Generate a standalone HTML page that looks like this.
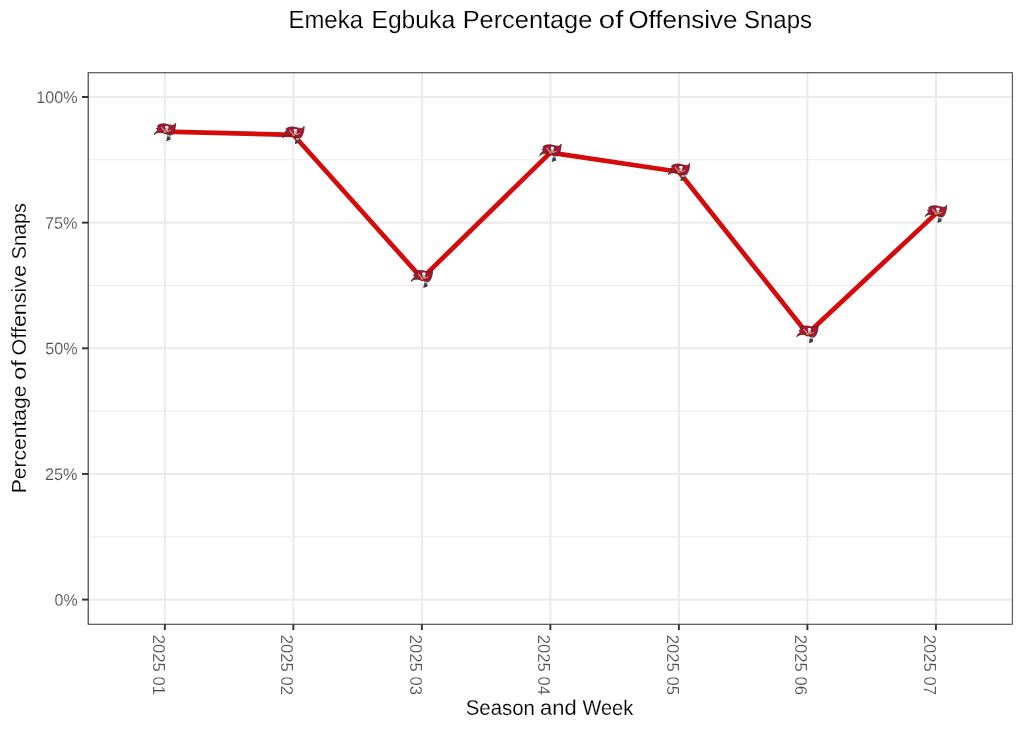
<!DOCTYPE html>
<html><head><meta charset="utf-8"><title>Emeka Egbuka Percentage of Offensive Snaps</title>
<style>
html,body{margin:0;padding:0;background:#fff;}
body{width:1024px;height:731px;overflow:hidden;font-family:"Liberation Sans",sans-serif;}
svg{display:block;will-change:transform;}
text{font-family:"Liberation Sans",sans-serif;stroke:#ffffff;stroke-width:0.16px;}
</style></head><body>
<svg width="1024" height="731" viewBox="0 0 1024 731">
<rect x="0" y="0" width="1024" height="731" fill="#ffffff"/>
<defs>

<g id="flag">
<!-- pole / sword hilt -->
<path d="M498 470 L602 482 L578 548 L591 632 L454 680 L472 565 L486 520 Z" fill="#3d4045"/>
<path d="M500 468 L602 482 L582 545 L486 532 Z" fill="#b3b6ba"/>
<!-- flag body -->
<path d="M194 172 C250 140 330 122 410 130 C490 140 560 176 640 176 C700 174 735 150 748 104 C756 190 734 300 690 400 C676 434 660 456 640 474 C560 482 480 462 400 432 C320 404 240 394 165 414 C125 426 94 448 68 474 C78 430 106 392 150 354 L192 321 L136 278 L212 238 L168 208 Z" fill="#ae162f" stroke="#3d2226" stroke-width="23" stroke-linejoin="round"/>
<!-- subtle darker folds -->
<path d="M560 190 C580 260 575 360 545 455" fill="none" stroke="#8f1128" stroke-width="22"/>
<path d="M250 180 C270 250 265 330 235 392" fill="none" stroke="#9c1329" stroke-width="16"/>
<!-- swords -->
<path d="M272 240 L304 218 L420 350 L386 372 Z" fill="#a89ea1"/>
<path d="M612 314 L604 352 L468 402 L456 366 Z" fill="#a89ea1"/>
<path d="M300 372 L372 366 L380 392 L305 398 Z" fill="#3a2427"/>
<path d="M452 392 L505 408 L498 434 L445 416 Z" fill="#3a2427"/>
<!-- skull -->
<path d="M422 240 C420 205 450 190 480 194 C520 200 532 238 520 268 L504 350 L432 354 L428 275 C424 262 422 252 422 240 Z" fill="#bdbdbd"/>
<ellipse cx="471" cy="230" rx="52" ry="36" fill="#ffffff"/>
<!-- football -->
<ellipse cx="410" cy="388" rx="54" ry="32" fill="#f26a21" transform="rotate(6 410 388)"/>
<ellipse cx="400" cy="380" rx="26" ry="14" fill="#f7892f" transform="rotate(6 400 380)"/>
</g>

</defs>
<line x1="87.75" x2="1013.0" y1="536.77" y2="536.77" stroke="#ebebeb" stroke-width="1.05"/>
<line x1="87.75" x2="1013.0" y1="411.12" y2="411.12" stroke="#ebebeb" stroke-width="1.05"/>
<line x1="87.75" x2="1013.0" y1="285.48" y2="285.48" stroke="#ebebeb" stroke-width="1.05"/>
<line x1="87.75" x2="1013.0" y1="159.82" y2="159.82" stroke="#ebebeb" stroke-width="1.05"/>
<line x1="87.75" x2="1013.0" y1="599.60" y2="599.60" stroke="#ebebeb" stroke-width="2.1"/>
<line x1="87.75" x2="1013.0" y1="473.95" y2="473.95" stroke="#ebebeb" stroke-width="2.1"/>
<line x1="87.75" x2="1013.0" y1="348.30" y2="348.30" stroke="#ebebeb" stroke-width="2.1"/>
<line x1="87.75" x2="1013.0" y1="222.65" y2="222.65" stroke="#ebebeb" stroke-width="2.1"/>
<line x1="87.75" x2="1013.0" y1="97.00" y2="97.00" stroke="#ebebeb" stroke-width="2.1"/>
<line x1="164.85" x2="164.85" y1="71.95" y2="624.7" stroke="#ebebeb" stroke-width="2.1"/>
<line x1="293.36" x2="293.36" y1="71.95" y2="624.7" stroke="#ebebeb" stroke-width="2.1"/>
<line x1="421.87" x2="421.87" y1="71.95" y2="624.7" stroke="#ebebeb" stroke-width="2.1"/>
<line x1="550.38" x2="550.38" y1="71.95" y2="624.7" stroke="#ebebeb" stroke-width="2.1"/>
<line x1="678.89" x2="678.89" y1="71.95" y2="624.7" stroke="#ebebeb" stroke-width="2.1"/>
<line x1="807.40" x2="807.40" y1="71.95" y2="624.7" stroke="#ebebeb" stroke-width="2.1"/>
<line x1="935.91" x2="935.91" y1="71.95" y2="624.7" stroke="#ebebeb" stroke-width="2.1"/>
<path d="M164.85 131.70 L293.36 134.80 L421.87 278.40 L550.38 152.60 L678.89 171.80 L807.40 333.80 L935.91 213.60" fill="none" stroke="#d50a0a" stroke-width="4.7" stroke-linejoin="round" stroke-linecap="butt"/>
<use href="#flag" transform="translate(164.85 131.70) scale(0.03148) translate(-407.5 -378.5)"/>
<use href="#flag" transform="translate(293.36 134.80) scale(0.03148) translate(-407.5 -378.5)"/>
<use href="#flag" transform="translate(421.87 278.40) scale(0.03148) translate(-407.5 -378.5)"/>
<use href="#flag" transform="translate(550.38 152.60) scale(0.03148) translate(-407.5 -378.5)"/>
<use href="#flag" transform="translate(678.89 171.80) scale(0.03148) translate(-407.5 -378.5)"/>
<use href="#flag" transform="translate(807.40 333.80) scale(0.03148) translate(-407.5 -378.5)"/>
<use href="#flag" transform="translate(935.91 213.60) scale(0.03148) translate(-407.5 -378.5)"/>
<path d="M87.65 72.18 H1012.80 V624.77 H87.65 Z M88.75 73.13 V623.82 H1011.85 V73.13 Z" fill="#333333" fill-rule="evenodd"/>
<line x1="82.0" x2="88.2" y1="599.60" y2="599.60" stroke="#333333" stroke-width="1.95"/>
<line x1="82.0" x2="88.2" y1="473.95" y2="473.95" stroke="#333333" stroke-width="1.95"/>
<line x1="82.0" x2="88.2" y1="348.30" y2="348.30" stroke="#333333" stroke-width="1.95"/>
<line x1="82.0" x2="88.2" y1="222.65" y2="222.65" stroke="#333333" stroke-width="1.95"/>
<line x1="82.0" x2="88.2" y1="97.00" y2="97.00" stroke="#333333" stroke-width="1.95"/>
<line x1="164.85" x2="164.85" y1="624.3" y2="630.1" stroke="#333333" stroke-width="1.95"/>
<line x1="293.36" x2="293.36" y1="624.3" y2="630.1" stroke="#333333" stroke-width="1.95"/>
<line x1="421.87" x2="421.87" y1="624.3" y2="630.1" stroke="#333333" stroke-width="1.95"/>
<line x1="550.38" x2="550.38" y1="624.3" y2="630.1" stroke="#333333" stroke-width="1.95"/>
<line x1="678.89" x2="678.89" y1="624.3" y2="630.1" stroke="#333333" stroke-width="1.95"/>
<line x1="807.40" x2="807.40" y1="624.3" y2="630.1" stroke="#333333" stroke-width="1.95"/>
<line x1="935.91" x2="935.91" y1="624.3" y2="630.1" stroke="#333333" stroke-width="1.95"/>
<text transform="translate(288.47 28.00) rotate(0.05)" font-size="24.8" fill="#000000" textLength="74.49" lengthAdjust="spacingAndGlyphs">Emeka</text>
<text transform="translate(371.41 28.00) rotate(0.05)" font-size="24.8" fill="#000000" textLength="83.78" lengthAdjust="spacingAndGlyphs">Egbuka</text>
<text transform="translate(462.66 28.00) rotate(0.05)" font-size="24.8" fill="#000000" textLength="129.66" lengthAdjust="spacingAndGlyphs">Percentage</text>
<text transform="translate(598.82 28.00) rotate(0.05)" font-size="24.8" fill="#000000" textLength="24.51" lengthAdjust="spacingAndGlyphs">of</text>
<text transform="translate(628.42 28.00) rotate(0.05)" font-size="24.8" fill="#000000" textLength="108.99" lengthAdjust="spacingAndGlyphs">Offensive</text>
<text transform="translate(743.91 28.00) rotate(0.05)" font-size="24.8" fill="#000000" textLength="68.10" lengthAdjust="spacingAndGlyphs">Snaps</text>
<text transform="translate(465.73 714.85) rotate(0.05)" font-size="21.0" fill="#000000" textLength="69.09" lengthAdjust="spacingAndGlyphs">Season</text>
<text transform="translate(539.99 714.85) rotate(0.05)" font-size="21.0" fill="#000000" textLength="36.60" lengthAdjust="spacingAndGlyphs">and</text>
<text transform="translate(582.38 714.85) rotate(0.05)" font-size="21.0" fill="#000000" textLength="50.78" lengthAdjust="spacingAndGlyphs">Week</text>
<text transform="translate(26.15 493.31) rotate(-90)" font-size="21.0" fill="#000000" textLength="107.83" lengthAdjust="spacingAndGlyphs">Percentage</text>
<text transform="translate(26.15 380.09) rotate(-90)" font-size="21.0" fill="#000000" textLength="19.91" lengthAdjust="spacingAndGlyphs">of</text>
<text transform="translate(26.15 355.42) rotate(-90)" font-size="21.0" fill="#000000" textLength="90.50" lengthAdjust="spacingAndGlyphs">Offensive</text>
<text transform="translate(26.15 259.34) rotate(-90)" font-size="21.0" fill="#000000" textLength="56.20" lengthAdjust="spacingAndGlyphs">Snaps</text>
<text transform="translate(54.50 605.65) rotate(0.05)" font-size="16.8" fill="#4d4d4d" stroke="none" textLength="23.11" lengthAdjust="spacingAndGlyphs">0%</text>
<text transform="translate(45.05 480.00) rotate(0.05)" font-size="16.8" fill="#4d4d4d" stroke="none" textLength="32.52" lengthAdjust="spacingAndGlyphs">25%</text>
<text transform="translate(45.18 354.35) rotate(0.05)" font-size="16.8" fill="#4d4d4d" stroke="none" textLength="32.40" lengthAdjust="spacingAndGlyphs">50%</text>
<text transform="translate(45.05 228.70) rotate(0.05)" font-size="16.8" fill="#4d4d4d" stroke="none" textLength="32.52" lengthAdjust="spacingAndGlyphs">75%</text>
<text transform="translate(36.20 103.05) rotate(0.05)" font-size="16.8" fill="#4d4d4d" stroke="none" textLength="41.33" lengthAdjust="spacingAndGlyphs">100%</text>
<text transform="translate(152.90 634.69) rotate(90)" font-size="16.8" fill="#4d4d4d" stroke="none" textLength="37.02" lengthAdjust="spacingAndGlyphs">2025</text>
<text transform="translate(152.90 676.38) rotate(90)" font-size="16.8" fill="#4d4d4d" stroke="none" textLength="18.51" lengthAdjust="spacingAndGlyphs">01</text>
<text transform="translate(281.41 634.69) rotate(90)" font-size="16.8" fill="#4d4d4d" stroke="none" textLength="37.02" lengthAdjust="spacingAndGlyphs">2025</text>
<text transform="translate(281.41 676.38) rotate(90)" font-size="16.8" fill="#4d4d4d" stroke="none" textLength="18.51" lengthAdjust="spacingAndGlyphs">02</text>
<text transform="translate(409.92 634.69) rotate(90)" font-size="16.8" fill="#4d4d4d" stroke="none" textLength="37.02" lengthAdjust="spacingAndGlyphs">2025</text>
<text transform="translate(409.92 676.38) rotate(90)" font-size="16.8" fill="#4d4d4d" stroke="none" textLength="18.51" lengthAdjust="spacingAndGlyphs">03</text>
<text transform="translate(538.43 634.69) rotate(90)" font-size="16.8" fill="#4d4d4d" stroke="none" textLength="37.02" lengthAdjust="spacingAndGlyphs">2025</text>
<text transform="translate(538.43 676.38) rotate(90)" font-size="16.8" fill="#4d4d4d" stroke="none" textLength="18.51" lengthAdjust="spacingAndGlyphs">04</text>
<text transform="translate(666.94 634.69) rotate(90)" font-size="16.8" fill="#4d4d4d" stroke="none" textLength="37.02" lengthAdjust="spacingAndGlyphs">2025</text>
<text transform="translate(666.94 676.38) rotate(90)" font-size="16.8" fill="#4d4d4d" stroke="none" textLength="18.51" lengthAdjust="spacingAndGlyphs">05</text>
<text transform="translate(795.45 634.69) rotate(90)" font-size="16.8" fill="#4d4d4d" stroke="none" textLength="37.02" lengthAdjust="spacingAndGlyphs">2025</text>
<text transform="translate(795.45 676.38) rotate(90)" font-size="16.8" fill="#4d4d4d" stroke="none" textLength="18.51" lengthAdjust="spacingAndGlyphs">06</text>
<text transform="translate(923.96 634.69) rotate(90)" font-size="16.8" fill="#4d4d4d" stroke="none" textLength="37.02" lengthAdjust="spacingAndGlyphs">2025</text>
<text transform="translate(923.96 676.38) rotate(90)" font-size="16.8" fill="#4d4d4d" stroke="none" textLength="18.51" lengthAdjust="spacingAndGlyphs">07</text>
</svg></body></html>
